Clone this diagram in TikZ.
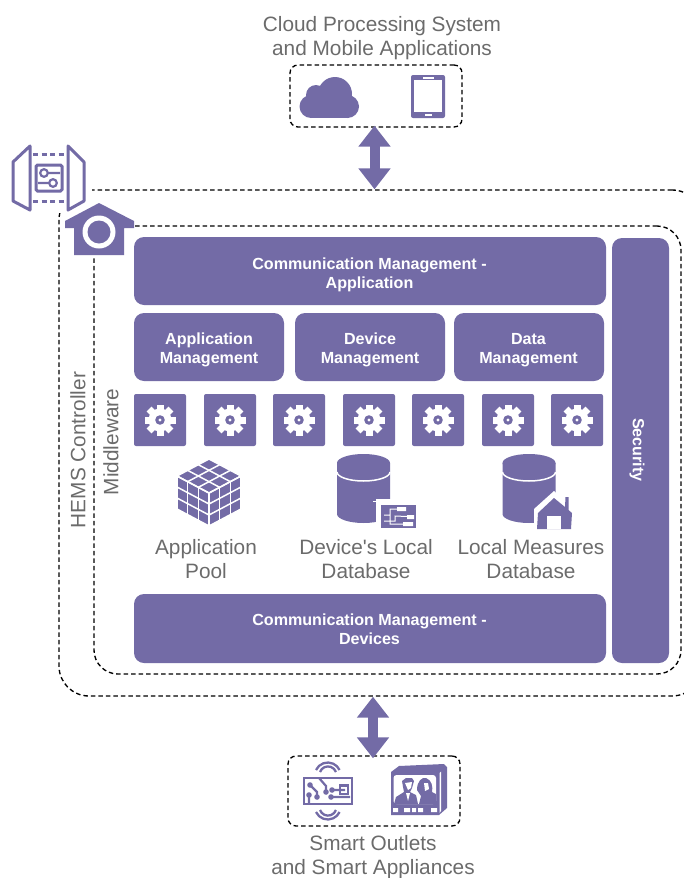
\documentclass[tikz,border=0pt]{standalone}
\usepackage{fontspec}
\setmainfont{Liberation Sans}
\usetikzlibrary{arrows.meta}
\definecolor{hemspurple}{HTML}{736BA6}
\definecolor{labelgrey}{HTML}{6B6B6B}
\tikzset{
	panel/.style={fill=hemspurple, rounded corners=10, inner sep=0},
	paneltext/.style={text=white, align=center, inner sep=0, font=\fontsize{16.1}{18.7}\selectfont\bfseries},
	gearbox/.style={fill=hemspurple, rounded corners=2, inner sep=0, minimum width=52, minimum height=52},
	dashedbox/.style={draw=black, line width=1.35, dash pattern=on 4.5 off 3, inner sep=0},
	caption/.style={text=labelgrey, align=center, font=\fontsize{20.8}{24}\selectfont},
	doublearrow/.style={{Triangle[length=21,width=31]}-{Triangle[length=21,width=31]}, hemspurple, line width=10},
	gearicon/.pic={
		\foreach \Angle in {0,45,...,315}
			\fill[white, rotate=\Angle] (-3.5,-15.5) rectangle (3.5,-9);
		\fill[white] (0,0) circle (11.5);
		\fill[hemspurple] (0,0) circle (4.8);
		\fill[white] (0,0) circle (1.6);
	},
	cylindericon/.pic={
		\fill[hemspurple] (-26.5,0) -- (-26.5,51) arc[x radius=26.5, y radius=-9, start angle=180, end angle=360] -- (26.5,0) -- cycle;
		\draw[white, line width=1.5] (-26.5,9) arc[x radius=26.5, y radius=-9, start angle=180, end angle=360];
		\fill[hemspurple] (0,0) ellipse (26.5 and 9);
	}
}
\begin{document}
\begin{tikzpicture}[x=1pt,y=-1pt]
	\pgfmathsetmacro{\CubeX}{32}
	\pgfmathsetmacro{\CubeY}{17}
	\pgfmathsetmacro{\CubeH}{33}
	\clip (0,0) rectangle (684,878);
	\useasboundingbox (0,0) rectangle (684,878);
	% BOXES
	\node[dashedbox, rounded corners=30, minimum width=643, minimum height=506] (hemsbox) at (380.5,443) {};
	\node[dashedbox, rounded corners=24, minimum width=587, minimum height=448] (middlewarebox) at (387.5,450) {};
	\node[dashedbox, rounded corners=8, minimum width=172, minimum height=62] (cloudbox) at (376,96) {};
	\node[dashedbox, rounded corners=8, minimum width=172, minimum height=70] (smartbox) at (374,791) {};
	% TEXTS
	\node[caption] (cloudlabel) at (382,38) {Cloud Processing System\\and Mobile Applications};
	\node[caption] (smartlabel) at (373,857) {Smart Outlets\\and Smart Appliances};
	\node[caption, rotate=90] (hemslabel) at (78,450) {HEMS Controller};
	\node[caption, rotate=90] (middlewarelabel) at (111,442) {Middleware};
	\node[caption] (poollabel) at (206,559) {Application\\Pool};
	\node[caption] (devicedblabel) at (366,559) {Device\textquotesingle s Local\\Database};
	\node[caption] (measuredblabel) at (531,559) {Local Measures\\Database};
	% ARROWS
	\draw[doublearrow] ([xshift=-1.5,yshift=2]cloudbox.south) -- ([xshift=-1.5]cloudbox.south |- hemsbox.north);
	\draw[doublearrow] ([xshift=-1]smartbox.north |- hemsbox.south) -- ([xshift=-1,yshift=-3]smartbox.north);
	% PANELS
	\node[panel, minimum width=472, minimum height=68] (commapp) at (370,271) {};
	\node[panel, minimum width=150, minimum height=68] (appmgmt) at (209,347) {};
	\node[panel, minimum width=150, minimum height=68] (devmgmt) at (370,347) {};
	\node[panel, minimum width=150, minimum height=68] (datamgmt) at (529,347) {};
	\node[panel, minimum width=472, minimum height=69] (commdev) at (370,628.5) {};
	\node[panel, minimum width=57, minimum height=425] (securitybar) at (640.5,450.5) {};
	\node[paneltext] (commapplabel) at (369.5,275) {Communication Management -\\Application};
	\node[paneltext] (appmgmtlabel) at (209,350) {Application\\Management};
	\node[paneltext] (devmgmtlabel) at (370,350) {Device\\Management};
	\node[paneltext] (datamgmtlabel) at (528.5,350) {Data\\Management};
	\node[paneltext] (commdevlabel) at (369.5,629.5) {Communication Management -\\Devices};
	\node[paneltext, rotate=-90] (securitylabel) at (637,450) {Security};
	% GEARS
	\foreach \GearX [count=\GearId] in {160,230,299,369,438,508,577} {
		\node[gearbox] (gear\GearId) at (\GearX,420) {};
		\pic at (gear\GearId) {gearicon};
	}
	% ROUTER
	\fill[white] (10,143) rectangle (92,213);
	\draw[hemspurple, line width=3, line join=round] (30,146) -- (13,162) -- (13,201) -- (30,210) -- cycle;
	\draw[hemspurple, line width=3, line join=round] (68,146) -- (84,162) -- (84,201) -- (68,210) -- cycle;
	\draw[hemspurple, line width=3, dash pattern=on 5 off 3.5] (33,154) -- (66,154);
	\draw[hemspurple, line width=3, dash pattern=on 5 off 3.5] (33,201) -- (66,201);
	\draw[hemspurple, line width=3, rounded corners=1.5] (36,165) rectangle (62,191);
	\draw[hemspurple, line width=2.2] (44,173) circle (3.8) (47.8,173) -- (60,173) (38,183) -- (49.5,183) (53,183) circle (3.8);
	% HOUSE
	\fill[white] (68,214) -- (99,201) -- (130,214) -- (130,257) -- (68,257) -- cycle;
	\fill[hemspurple] (99,203) -- (134,221) -- (134,228) -- (124,228) -- (124,255) -- (74,255) -- (74,228) -- (65,228) -- (65,221) -- cycle;
	\fill[white] (99,232) circle (16.5);
	\fill[hemspurple] (99,232) circle (11.5);
	% CLOUD
	\fill[hemspurple] (311,106.5) circle (11.5);
	\fill[hemspurple] (347.5,106.5) circle (11.5);
	\fill[hemspurple] (335,94) circle (17);
	\fill[hemspurple] (316,95) circle (10);
	\fill[hemspurple] (311,100) rectangle (348,118);
	% TABLET
	\fill[hemspurple, rounded corners=2] (411,75) rectangle (445,118);
	\fill[white] (414,80) rectangle (442,112);
	\fill[white] (423,77) rectangle (434,78.5);
	\fill[white] (425,114.3) rectangle (432,115.6);
	% CUBE
	\fill[hemspurple] (209,459) -- (209+\CubeX,459+\CubeY) -- (209+\CubeX,459+\CubeY+\CubeH) -- (209,459+2*\CubeY+\CubeH) -- (209-\CubeX,459+\CubeY+\CubeH) -- (209-\CubeX,459+\CubeY) -- cycle;
	\foreach \Step in {0,1,2,3} {
		\pgfmathsetmacro{\Sx}{\CubeX*\Step/3}
		\pgfmathsetmacro{\Sy}{\CubeY*\Step/3}
		\pgfmathsetmacro{\Sh}{\CubeH*\Step/3}
		\draw[white, line width=1.5] (209-\Sx,459+\Sy) -- ++(\CubeX,\CubeY);
		\draw[white, line width=1.5] (209+\Sx,459+\Sy) -- ++(-\CubeX,\CubeY);
		\draw[white, line width=1.5] (209-\CubeX+\Sx,459+\CubeY+\Sy) -- ++(0,\CubeH);
		\draw[white, line width=1.5] (209+\Sx,459+2*\CubeY-\Sy) -- ++(0,\CubeH);
		\draw[white, line width=1.5] (209-\CubeX,459+\CubeY+\Sh) -- ++(\CubeX,\CubeY);
		\draw[white, line width=1.5] (209,459+2*\CubeY+\Sh) -- ++(\CubeX,-\CubeY);
	}
	% DATABASES
	\pic at (363.5,463) {cylindericon};
	\pic at (529,463) {cylindericon};
	\fill[white] (376,499) rectangle (418,531);
	\fill[hemspurple] (381,505) rectangle (416,528);
	\draw[white, line width=1.4] (373,501.5) -- (378,501.5) -- (378,530);
	\fill[white] (397,507) rectangle (406,511) (407,515) rectangle (414,519) (403,522) rectangle (413,526);
	\draw[white, line width=1] (384,515) -- (390,515) -- (390,509) -- (397,509) (384,521) -- (395,521) -- (395,516) -- (407,516.5) (390,515) -- (390,524) -- (403,524);
	\fill[white] (534,509) -- (554,491) -- (575,510) -- (575,531) -- (534,531) -- cycle;
	\fill[hemspurple] (538,513) -- (554,498) -- (565,507) -- (565.5,497) -- (568.5,497) -- (568.5,510) -- (572,513) -- (571,529) -- (537,529) -- cycle;
	\fill[white] (547,516) rectangle (561,529);
	% PCB
	\draw[hemspurple, line width=2.6] (304,778) rectangle (352,804);
	\draw[hemspurple, line width=2.3] (320,772) arc[start angle=200, end angle=340, radius=8.5];
	\draw[hemspurple, line width=2.3] (316,770) arc[start angle=205, end angle=335, radius=13];
	\draw[hemspurple, line width=2.3] (320,810) arc[start angle=160, end angle=20, radius=8.5];
	\draw[hemspurple, line width=2.3] (316,812) arc[start angle=155, end angle=25, radius=13];
	\draw[hemspurple, line width=2.2] (319,778) -- (326,786) -- (326,791) (310,785) -- (317,792) -- (317,797) (309,803) -- (309,795) (332,790) -- (345,790) (332,797) -- (350,797);
	\fill[hemspurple] (326,792) circle (2.8) (310,785) circle (2.8) (317,797) circle (2.8) (309,795) circle (2.8) (332,790) circle (2.8) (331,797) circle (2.8);
	\draw[hemspurple, line width=2.2] (340,785.5) rectangle (348,794);
	% TV
	\fill[hemspurple] (391,772) -- (399,766) -- (444,764) -- (447,767) -- (447,808) -- (439,815) -- (391,815) -- cycle;
	\fill[white] (439.5,773) -- (441,771.5) -- (441,811) -- (439.5,813) -- cycle;
	\fill[white, rounded corners=3] (393.5,775) rectangle (436,804);
	\fill[hemspurple] (394,804) -- (396,797) -- (404,792) -- (403,787) -- (402,781) -- (406,778) -- (412,778) -- (414,781) -- (412,788) -- (410,792) -- (416,795) -- (418,804) -- cycle;
	\fill[white] (405,783) -- (412,782) -- (411,788) -- (408,790) -- cycle;
	\fill[white] (406,793) -- (410,793) -- (408,801) -- cycle;
	\fill[hemspurple] (417,790) .. controls (417,781) and (422,777) .. (426,778) .. controls (432,780) and (433,787) .. (432,792) -- (436,794) -- (436,804) -- (419,804) -- (421,796) -- cycle;
	\fill[white] (424,783) -- (428,783) -- (429,789) -- (425,791) -- cycle;
	\fill[white] (393,808) rectangle (398,812) (404,808) rectangle (410,812) (412,808) rectangle (416,812) (418,808) rectangle (423,812) (431,808) rectangle (437,812);
\end{tikzpicture}
\end{document}
